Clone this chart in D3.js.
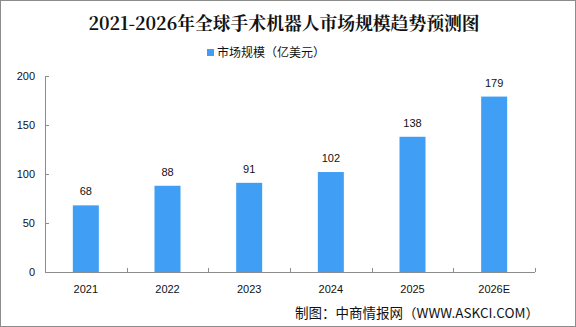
<!DOCTYPE html>
<html>
<head>
<meta charset="utf-8">
<script src="https://cdn.jsdelivr.net/npm/d3@7"></script>
<style>
  body { margin: 0; background: #fff; }
  svg { display: block; }
</style>
</head>
<body>
<div id="chart"></div>
<script>
const years = ["2021", "2022", "2023", "2024", "2025", "2026E"];
const marketSize = [68, 88, 91, 102, 138, 179];
const yTicks = [0, 50, 100, 150, 200];

const W = 576, H = 327;
const margin = {top: 76, right: 41, bottom: 55, left: 45};
const width = W - margin.left - margin.right,
    height = H - margin.top - margin.bottom;

const svg = d3.select("#chart")
    .append("svg")
    .attr("width", W)
    .attr("height", H);

// outer border
svg.append("rect")
    .attr("x", 0.5).attr("y", 0.5)
    .attr("width", W - 1).attr("height", H - 1)
    .attr("fill", "#fff")
    .attr("stroke", "#8c8c8c");

// title
svg.append("text")
    .attr("x", W / 2 - 4)
    .attr("y", 30)
    .attr("text-anchor", "middle")
    .attr("font-family", "'Noto Serif CJK SC', 'Noto Sans CJK SC', serif")
    .attr("font-weight", "bold")
    .attr("font-size", 17.8)
    .attr("fill", "#111")
    .text("2021-2026年全球手术机器人市场规模趋势预测图");

// legend
svg.append("rect")
    .attr("x", 207).attr("y", 49)
    .attr("width", 7).attr("height", 7)
    .attr("fill", "#409ef4");
svg.append("text")
    .attr("x", 217)
    .attr("y", 57)
    .attr("font-family", "'Noto Sans CJK SC', sans-serif")
    .attr("font-size", 12)
    .attr("fill", "#111")
    .text("市场规模（亿美元）");

const g = svg.append("g")
    .attr("transform", `translate(${margin.left},${margin.top})`);

const x = d3.scaleBand()
    .domain(years)
    .range([0, width]);

const y = d3.scaleLinear()
    .domain([0, 200])
    .range([height, 0]);

// y axis
const yAxis = g.append("g")
    .call(d3.axisLeft(y).tickValues(yTicks).tickSize(-4).tickPadding(10));
yAxis.select(".domain").attr("stroke", "#8c8c8c");
yAxis.selectAll(".tick line").attr("stroke", "#8c8c8c");
yAxis.selectAll("text")
    .attr("font-family", "'Liberation Sans', Arial, sans-serif")
    .attr("font-size", 11)
    .attr("fill", "#111");

// x axis
const xAxis = g.append("g")
    .attr("transform", `translate(0,${height})`)
    .call(d3.axisBottom(x).tickSize(0).tickPadding(13));
xAxis.select(".domain").attr("stroke", "#8c8c8c").attr("d", `M0.5,0.5H${width}`);
xAxis.selectAll("text")
    .attr("font-family", "'Liberation Sans', Arial, sans-serif")
    .attr("font-size", 11)
    .attr("fill", "#111");

// category separators
g.append("g")
    .selectAll("line")
    .data(years.slice(1).concat(["end"]))
    .join("line")
    .attr("x1", (d, i) => Math.round(x.step() * (i + 1)) + 0.5)
    .attr("x2", (d, i) => Math.round(x.step() * (i + 1)) + 0.5)
    .attr("y1", height)
    .attr("y2", height - 4)
    .attr("stroke", "#8c8c8c");

// bars
const barW = 26;
g.selectAll(".bar")
    .data(marketSize)
    .join("rect")
    .attr("class", "bar")
    .attr("x", (d, i) => x(years[i]) + x.bandwidth() / 2 - barW / 2)
    .attr("y", d => y(d))
    .attr("width", barW)
    .attr("height", d => height - y(d))
    .attr("fill", "#409ef4");

// value labels
g.selectAll(".val")
    .data(marketSize)
    .join("text")
    .attr("class", "val")
    .attr("x", (d, i) => x(years[i]) + x.bandwidth() / 2)
    .attr("y", d => y(d) - 10)
    .attr("text-anchor", "middle")
    .attr("font-family", "'Liberation Sans', Arial, sans-serif")
    .attr("font-size", 11)
    .attr("fill", "#111")
    .text(d => d);

// source
svg.append("text")
    .attr("x", 539)
    .attr("y", 318)
    .attr("text-anchor", "end")
    .attr("font-family", "'Noto Sans CJK SC', sans-serif")
    .attr("font-size", 13.5)
    .attr("fill", "#111")
    .text("制图：中商情报网（WWW.ASKCI.COM）");
</script>
</body>
</html>
